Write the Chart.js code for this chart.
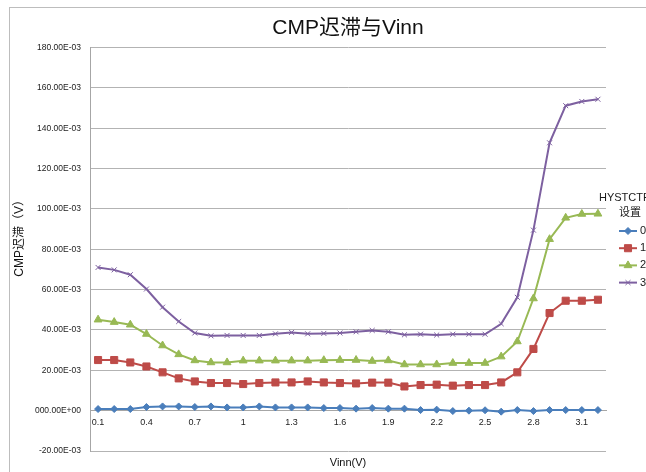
<!DOCTYPE html>
<html>
<head>
<meta charset="utf-8">
<script src="https://cdn.jsdelivr.net/npm/chart.js@4/dist/chart.umd.min.js"></script>
<style>
  html, body { margin: 0; padding: 0; background: #fff; overflow: hidden; }
  #wrap { width: 646px; height: 472px; position: relative; }
</style>
</head>
<body>
<div id="wrap"><canvas id="c" width="646" height="472"></canvas></div>
<script>
// Vinn sweep points (V)
const vinn = ["0.1","0.2","0.3","0.4","0.5","0.6","0.7","0.8","0.9","1",
              "1.1","1.2","1.3","1.4","1.5","1.6","1.7","1.8","1.9","2",
              "2.1","2.2","2.3","2.4","2.5","2.6","2.7","2.8","2.9","3",
              "3.1","3.2"];
// Labels shown on the horizontal axis
const xTickLabels = ["0.1","0.4","0.7","1","1.3","1.6","1.9","2.2","2.5","2.8","3.1"];
// Vertical axis tick texts, bottom to top (values in units of 1E-03 V)
const yTickLabels = ["-20.00E-03","000.00E+00","20.00E-03","40.00E-03","60.00E-03",
                     "80.00E-03","100.00E-03","120.00E-03","140.00E-03","160.00E-03","180.00E-03"];

// CMP hysteresis (1E-03 V) for each HYSTCTRL setting
const hyst0 = [0.8,0.8,0.8,1.8,2.1,2.1,1.8,2.1,1.6,1.6,2.1,1.6,1.6,1.6,1.3,1.3,
               1.0,1.3,1.0,1.0,0.3,0.5,-0.2,0.0,0.2,-0.5,0.3,-0.2,0.3,0.3,0.3,0.3];
const hyst1 = [25.1,25.1,23.9,21.9,19.0,16.0,14.5,13.7,13.7,13.2,13.7,14.0,14.0,14.5,14.0,13.7,
               13.5,13.9,13.9,12.0,12.7,12.9,12.4,12.7,12.7,14.0,19.0,30.6,48.4,54.5,54.5,55.0];
const hyst2 = [45.1,43.9,42.6,38.0,32.3,27.9,24.9,23.9,23.9,24.8,24.8,24.8,24.8,24.8,25.0,25.1,
               25.1,24.6,24.9,22.9,22.9,22.9,23.6,23.6,23.6,26.8,34.3,55.6,85.0,95.6,97.5,97.6];
const hyst3 = [71.0,69.8,67.4,60.3,51.3,44.2,38.5,37.1,37.3,37.3,37.3,38.1,38.8,38.1,38.3,38.5,
               39.1,39.8,39.1,37.6,37.9,37.5,37.9,37.9,37.9,43.1,56.2,89.5,132.8,151.2,153.3,154.4];
const seriesNames = ["0","1","2","3"];
const legendTitle = ["HYSTCTRL", "设置"];
const yAxisTitle = "CMP迟滞（V）";

const FONT = "'Liberation Sans', Arial, 'Noto Sans CJK SC', sans-serif";

function series(label, data, color, style, radius) {
  return {
    label, data,
    borderColor: color, backgroundColor: color,
    borderWidth: 2,
    pointStyle: style, pointRadius: radius, pointHoverRadius: radius,
    pointBorderWidth: 1, pointBorderColor: color, pointBackgroundColor: color,
    tension: 0, fill: false
  };
}

// Outer frame of the chart area
const framePlugin = {
  id: 'frame',
  beforeDraw(chart) {
    const ctx = chart.ctx;
    ctx.save();
    ctx.fillStyle = '#ffffff';
    ctx.fillRect(0, 0, chart.width, chart.height);
    ctx.strokeStyle = '#bdbdbd';
    ctx.lineWidth = 1;
    ctx.strokeRect(9.5, 7.5, chart.width + 40, chart.height + 40);
    ctx.restore();
  }
};

// Rotated value-axis title, placed a little above the axis middle
const yTitlePlugin = {
  id: 'yTitle',
  afterDraw(chart) {
    const ctx = chart.ctx;
    const area = chart.chartArea;
    ctx.save();
    ctx.translate(20, (area.top + area.bottom) / 2 - 14);
    ctx.rotate(-Math.PI / 2);
    ctx.fillStyle = '#111';
    ctx.font = "12px " + FONT;
    ctx.textAlign = 'center';
    ctx.textBaseline = 'middle';
    ctx.fillText(yAxisTitle, 0, 0);
    ctx.restore();
  }
};

// Legend on the right with line-and-marker samples
const sideLegend = {
  id: 'sideLegend',
  afterDraw(chart) {
    const ctx = chart.ctx;
    const area = chart.chartArea;
    ctx.save();
    ctx.fillStyle = '#1a1a1a';
    ctx.font = "11px " + FONT;
    ctx.textAlign = 'center';
    ctx.textBaseline = 'middle';
    const cx = area.right + 22;
    ctx.fillText(legendTitle[0], cx, 198);
    ctx.fillText(legendTitle[1], cx + 2, 213);
    const x0 = area.right + 13, x1 = area.right + 31;
    chart.data.datasets.forEach((ds, i) => {
      const y = 231 + i * 17.2;
      ctx.strokeStyle = ds.borderColor;
      ctx.lineWidth = 2;
      ctx.beginPath();
      ctx.moveTo(x0, y);
      ctx.lineTo(x1, y);
      ctx.stroke();
      ctx.fillStyle = ds.pointBackgroundColor;
      ctx.strokeStyle = ds.pointBorderColor;
      ctx.lineWidth = 1;
      Chart.helpers.drawPoint(ctx, {pointStyle: ds.pointStyle, radius: ds.pointRadius, borderWidth: 1}, (x0 + x1) / 2, y);
      ctx.fillStyle = '#1a1a1a';
      ctx.textAlign = 'left';
      ctx.fillText(ds.label, x1 + 3, y);
    });
    ctx.restore();
  }
};

new Chart(document.getElementById('c'), {
  type: 'line',
  data: {
    labels: vinn,
    datasets: [
      series(seriesNames[0], hyst0, '#4a7ebb', 'rectRot', 3.5),
      series(seriesNames[1], hyst1, '#be4b48', 'rect', 5),
      series(seriesNames[2], hyst2, '#98b954', 'triangle', 4.5),
      series(seriesNames[3], hyst3, '#7d60a0', 'crossRot', 3.5)
    ]
  },
  options: {
    responsive: false,
    devicePixelRatio: 1,
    animation: false,
    layout: { padding: { left: 0, right: 40, top: 0, bottom: 0 } },
    plugins: {
      legend: { display: false },
      tooltip: { enabled: false },
      title: {
        display: true,
        text: 'CMP迟滞与Vinn',
        fullSize: false,
        color: '#111',
        font: { family: FONT, size: 21, weight: 'normal' },
        padding: { top: 15.4, bottom: 7 }
      },
      subtitle: {
        display: true,
        position: 'bottom',
        text: 'Vinn(V)',
        fullSize: false,
        color: '#111',
        font: { family: FONT, size: 11, weight: 'normal' },
        padding: { top: 5.4, bottom: 2.4 }
      }
    },
    scales: {
      x: {
        type: 'category',
        position: { y: 0 },
        offset: true,
        grid: { display: false, drawTicks: false },
        border: { display: true, color: '#a6a6a6', width: 1 },
        ticks: {
          autoSkip: false,
          maxRotation: 0,
          padding: 6.5,
          color: '#222',
          font: { family: FONT, size: 9 },
          callback(value, index) {
            const lab = vinn[index];
            return xTickLabels.includes(lab) ? lab : '';
          }
        }
      },
      y: {
        min: -20, max: 180,
        ticks: {
          stepSize: 20,
          padding: 9,
          color: '#222',
          font: { family: FONT, size: 8.5 },
          callback(value, index) { return yTickLabels[index]; }
        },
        grid: { color: '#b3b3b3', lineWidth: 1, drawTicks: false },
        border: { display: true, color: '#a6a6a6', width: 1 },
        title: { display: false },
        afterFit(scale) { scale.width = 90; }
      }
    }
  },
  plugins: [framePlugin, yTitlePlugin, sideLegend]
});
</script>
</body>
</html>
